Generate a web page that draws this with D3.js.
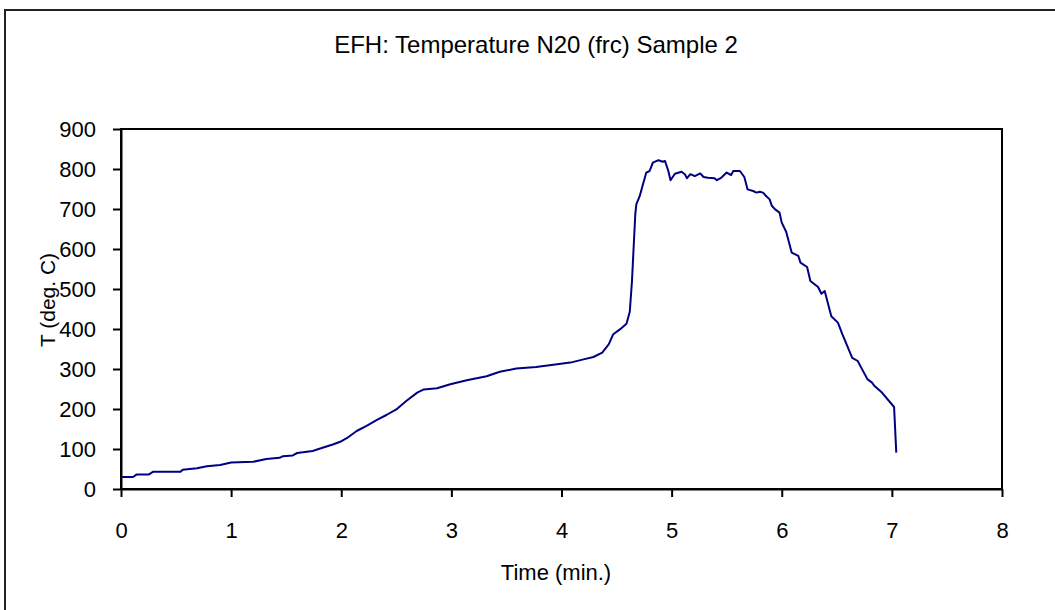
<!DOCTYPE html>
<html>
<head>
<meta charset="utf-8">
<script src="https://cdn.jsdelivr.net/npm/d3@7"></script>
<style>
  html, body { margin: 0; padding: 0; background: #fff; }
  svg { display: block; }
  text { font-family: "Liberation Sans", Arial, sans-serif; fill: #000; }
</style>
</head>
<body>
<svg id="chart" width="1055" height="610"></svg>
<script>
const chartTitle = "EFH: Temperature N20 (frc) Sample 2";
const xTitle = "Time (min.)";
const yTitle = "T (deg. C)";
const xTicks = [0, 1, 2, 3, 4, 5, 6, 7, 8];
const yTicks = [0, 100, 200, 300, 400, 500, 600, 700, 800, 900];

const timeMin = [
  0.0, 0.11, 0.14, 0.25, 0.29, 0.54, 0.56, 0.69, 0.78, 0.90, 1.0, 1.2, 1.32, 1.44, 1.47,
  1.56, 1.6, 1.74, 1.83, 1.93, 1.99, 2.05, 2.14, 2.23, 2.32, 2.41, 2.5, 2.59, 2.69, 2.75,
  2.87, 2.99, 3.14, 3.32, 3.44, 3.59, 3.77, 3.96, 4.08, 4.2, 4.29, 4.37, 4.43, 4.47, 4.53,
  4.59, 4.62, 4.64, 4.67, 4.68, 4.71, 4.74, 4.77, 4.80, 4.83, 4.88, 4.92, 4.94, 4.97, 4.99,
  5.03, 5.09, 5.12, 5.14, 5.17, 5.21, 5.26, 5.29, 5.33, 5.39, 5.41, 5.45, 5.5, 5.54, 5.56,
  5.62, 5.66, 5.69, 5.74, 5.77, 5.80, 5.83, 5.86, 5.89, 5.91, 5.94, 5.98, 6.0, 6.04, 6.09,
  6.15, 6.17, 6.23, 6.26, 6.33, 6.36, 6.39, 6.45, 6.51, 6.55, 6.64, 6.69, 6.73, 6.78, 6.82,
  6.84, 6.91, 7.02, 7.04
];
const tempC = [
  30, 30, 36, 36, 43, 43, 48, 52, 57, 60, 66, 68, 75, 78, 82,
  84, 90, 95, 103, 112, 118, 127, 145, 158, 172, 185, 199, 220, 241, 249,
  252, 262, 272, 282, 293, 301, 305, 312, 316, 324, 330, 341, 362, 387, 399,
  413, 443, 520, 687, 712, 732, 762, 791, 795, 816, 822, 818, 820, 795, 772,
  788, 793, 787, 777, 787, 782, 789, 780, 778, 777, 772, 778, 791, 785, 795,
  795, 780, 749, 745, 741, 743, 741, 732, 724, 708, 699, 691, 666, 643, 591,
  583, 566, 555, 520, 505, 488, 495, 432, 416, 387, 328, 320, 299, 274, 266,
  258, 241, 205, 91
];

const svg = d3.select("#chart");
const plot = { left: 121, right: 1002, top: 129, bottom: 489 };

const x = d3.scaleLinear().domain([0, 8]).range([plot.left, plot.right]);
const y = d3.scaleLinear().domain([0, 900]).range([plot.bottom, plot.top]);

// outer frame
svg.append("rect")
  .attr("x", 5).attr("y", 10)
  .attr("width", 1070).attr("height", 620)
  .attr("fill", "none").attr("stroke", "#222").attr("stroke-width", 2);

// title
svg.append("text")
  .attr("x", 536).attr("y", 53)
  .attr("text-anchor", "middle")
  .style("font-size", "24px")
  .text(chartTitle);

// plot box
svg.append("rect")
  .attr("x", plot.left).attr("y", plot.top)
  .attr("width", plot.right - plot.left).attr("height", plot.bottom - plot.top)
  .attr("fill", "none").attr("stroke", "#000").attr("stroke-width", 2);

// axes
const xAxis = d3.axisBottom(x).tickValues(xTicks).tickFormat(d3.format("d"))
  .tickSize(8).tickSizeOuter(0).tickPadding(25);
const gx = svg.append("g").attr("transform", `translate(0,${plot.bottom})`).call(xAxis);
gx.select(".domain").attr("stroke", "#000").attr("stroke-width", 2);
gx.selectAll(".tick line").attr("stroke", "#000").attr("stroke-width", 2);
gx.selectAll(".tick text").style("font-size", "22px")
  .style("font-family", '"Liberation Sans", Arial, sans-serif').attr("fill", "#000");

const yAxis = d3.axisLeft(y).tickValues(yTicks).tickFormat(d3.format("d"))
  .tickSize(8).tickSizeOuter(0).tickPadding(17);
const gy = svg.append("g").attr("transform", `translate(${plot.left},0)`).call(yAxis);
gy.select(".domain").attr("stroke", "#000").attr("stroke-width", 2);
gy.selectAll(".tick line").attr("stroke", "#000").attr("stroke-width", 2);
gy.selectAll(".tick text").style("font-size", "22px")
  .style("font-family", '"Liberation Sans", Arial, sans-serif').attr("fill", "#000");

// axis titles
svg.append("text")
  .attr("x", 556).attr("y", 580)
  .attr("text-anchor", "middle")
  .style("font-size", "22px")
  .text(xTitle);

svg.append("text")
  .attr("transform", "translate(55,300) rotate(-90)")
  .attr("text-anchor", "middle")
  .style("font-size", "21px")
  .text(yTitle);

// series
const pts = timeMin.map((t, i) => [t, tempC[i]]);
const line = d3.line().x(d => x(d[0])).y(d => y(d[1]));
svg.append("path")
  .datum(pts)
  .attr("d", line)
  .attr("fill", "none")
  .attr("stroke", "#000080")
  .attr("stroke-width", 2)
  .attr("stroke-linejoin", "round");
</script>
</body>
</html>
